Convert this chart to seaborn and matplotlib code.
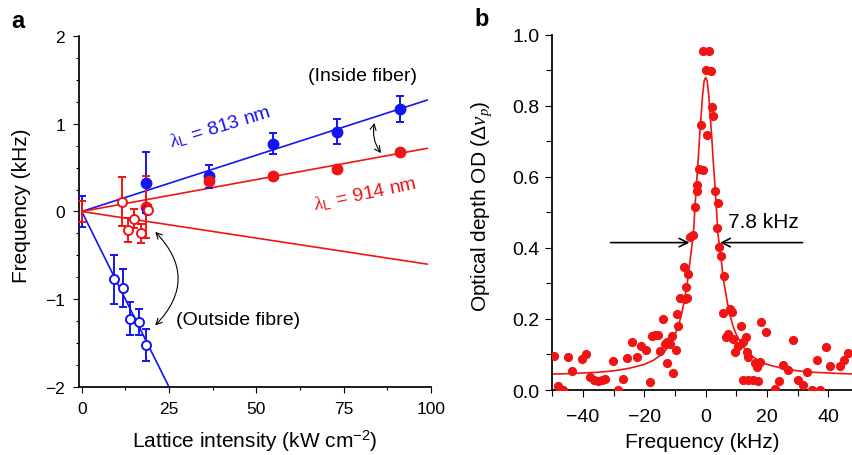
import numpy as np
import pandas as pd
import matplotlib
matplotlib.use('Agg')
import matplotlib.pyplot as plt
from matplotlib.ticker import MultipleLocator
import seaborn as sns

# ---- panel a: shift vs lattice intensity ----
inside_x = [18.3, 36.4, 54.7, 73.0, 91.3]
blue_in_y = [0.33, 0.40, 0.77, 0.91, 1.17]
blue_in_err = [0.35, 0.13, 0.12, 0.14, 0.15]
red_in_y = [0.05, 0.35, 0.40, 0.48, 0.68]
red_in_err = [0.35, 0.04, 0.04, 0.04, 0.03]

origin_err_blue = 0.18
origin_err_red = 0.12

blue_out_x = [9.2, 11.7, 13.8, 16.3, 18.4, 18.6]
blue_out_y = [-0.77, -0.87, -1.22, -1.26, -1.52, 0.02]
blue_out_err = [0.28, 0.22, 0.19, 0.15, 0.18, 0.0]
red_out_x = [11.4, 13.1, 15.0, 16.9, 18.9]
red_out_y = [0.11, -0.21, -0.08, -0.25, 0.02]
red_out_err = [0.28, 0.14, 0.11, 0.11, 0.05]

# fitted straight lines (end points)
fit_in_x = [0, 99]
blue_in_fit = [0, 1.27]
red_in_fit = [0, 0.72]
red_out_fit = [0, -0.60]
blue_out_fit_x = [0, 25]
blue_out_fit = [0, -2.0]

# ---- panel b: optical depth spectrum ----
od_x = [-49.5, -48.0, -46.5, -45.0, -43.5, -40.4, -39.1, -37.7, -36.3, -35.0,
        -33.7, -32.8, -30.1, -28.5, -27.1, -25.5, -24.1, -22.5, -21.1, -19.5,
        -18.2, -17.6, -16.5, -15.4, -14.9, -14.0, -13.3, -12.7, -12.5, -11.6,
        -10.9, -10.5, -9.8, -9.5, -8.9, -8.4, -7.0, -6.7, -6.5, -6.0,
        -5.7, -5.1, -4.0, -3.5, -2.9, -2.9, -2.1, -1.0, -1.5, 0.3,
        -0.8, 1.2, 0.0, 1.6, 2.0, 2.5, 3.0, 3.9, 3.6, 4.5,
        5.0, 6.0, 5.5, 7.9, 8.5, 6.6, 7.4, 9.0, 9.6, 10.4,
        11.5, 12.3, 13.0, 13.4, 13.9, 12.3, 13.9, 15.5, 17.2, 16.1,
        16.6, 17.7, 18.0, 19.6, 22.6, 24.0, 25.3, 27.0, 28.4, 30.0,
        31.8, 32.9, 34.6, 36.2, 37.3, 39.1, 40.5, 43.8, 45.2, 46.5]
od_y = [0.097, 0.010, 0.0, 0.092, 0.053, 0.087, 0.100, 0.038, 0.028, 0.026,
        0.028, 0.031, 0.081, 0.0, 0.031, 0.090, 0.136, 0.094, 0.125, 0.113,
        0.022, 0.153, 0.155, 0.155, 0.111, 0.200, 0.130, 0.134, 0.075, 0.130,
        0.153, 0.048, 0.113, 0.214, 0.179, 0.258, 0.347, 0.256, 0.291, 0.258,
        0.327, 0.432, 0.437, 0.514, 0.559, 0.578, 0.623, 0.618, 0.746, 0.718,
        0.954, 0.954, 0.900, 0.897, 0.796, 0.770, 0.559, 0.526, 0.455, 0.404,
        0.378, 0.322, 0.216, 0.228, 0.219, 0.148, 0.158, 0.144, 0.106, 0.125,
        0.181, 0.134, 0.150, 0.108, 0.092, 0.028, 0.028, 0.028, 0.026, 0.075,
        0.064, 0.080, 0.191, 0.164, 0.003, 0.026, 0.071, 0.056, 0.141, 0.028,
        0.015, 0.050, 0.0, 0.085, 0.0, 0.122, 0.069, 0.069, 0.085, 0.103]

fit_x = [-50, -45, -40, -35, -30, -25, -20, -17, -14, -12, -10, -9, -8, -7, -6,
         -5, -4, -3.5, -3, -2.5, -2, -1.5, -1, -0.5, 0, 0.5, 1, 1.5, 2, 2.5, 3,
         3.5, 4, 5, 6, 7, 8, 9, 10, 12, 14, 17, 20, 25, 30, 35, 40, 45, 50]
fit_y = [0.045, 0.046, 0.048, 0.050, 0.054, 0.061, 0.072, 0.084, 0.102, 0.124,
         0.156, 0.178, 0.208, 0.250, 0.300, 0.370, 0.440, 0.510, 0.580, 0.640,
         0.710, 0.770, 0.830, 0.870, 0.880, 0.870, 0.830, 0.770, 0.710, 0.640,
         0.580, 0.510, 0.440, 0.370, 0.300, 0.250, 0.208, 0.178, 0.156, 0.124,
         0.102, 0.084, 0.072, 0.061, 0.054, 0.050, 0.048, 0.046, 0.045]

BLUE = '#1414f0'
RED = '#f01414'

sns.set_theme(style='ticks')
plt.rcParams['font.family'] = ['Liberation Sans', 'DejaVu Sans']
plt.rcParams['mathtext.fontset'] = 'custom'
plt.rcParams['mathtext.rm'] = 'Liberation Sans'
plt.rcParams['mathtext.it'] = 'Liberation Serif:italic'
plt.rcParams['axes.edgecolor'] = 'black'
plt.rcParams['xtick.color'] = 'black'
plt.rcParams['ytick.color'] = 'black'
plt.rcParams['text.color'] = 'black'
plt.rcParams['axes.labelcolor'] = 'black'

fig = plt.figure(figsize=(8.52, 4.56), dpi=100)
ax_a = fig.add_axes([0.0927, 0.149, 0.413, 0.770])
ax_b = fig.add_axes([0.6482, 0.1425, 0.3518, 0.779])

# ---------------- panel a ----------------
ax = ax_a
sns.lineplot(x=fit_in_x, y=blue_in_fit, ax=ax, color=BLUE, lw=1.2, estimator=None)
sns.lineplot(x=fit_in_x, y=red_in_fit, ax=ax, color=RED, lw=1.2, estimator=None)
sns.lineplot(x=fit_in_x, y=red_out_fit, ax=ax, color=RED, lw=1.2, estimator=None)
sns.lineplot(x=blue_out_fit_x, y=blue_out_fit, ax=ax, color=BLUE, lw=1.2, estimator=None)

eb = dict(capsize=3, elinewidth=1.4, capthick=1.4, zorder=3, clip_on=False)
ax.errorbar([0], [0], yerr=[origin_err_blue], fmt='none', ecolor=BLUE, **eb)
ax.errorbar([0], [0], yerr=[origin_err_red], fmt='none', ecolor=RED, **eb)
ax.errorbar(inside_x, blue_in_y, yerr=blue_in_err, fmt='o', color=BLUE, ms=7.5, **eb)
ax.errorbar(inside_x, red_in_y, yerr=red_in_err, fmt='o', color=RED, ms=7.5, **eb)
ax.errorbar(blue_out_x, blue_out_y, yerr=blue_out_err, fmt='o', color=BLUE, ms=6.5,
            mfc='white', mew=1.4, **eb)
ax.errorbar(red_out_x, red_out_y, yerr=red_out_err, fmt='o', color=RED, ms=6.5,
            mfc='white', mew=1.4, **eb)

ax.set_xlim(-0.8, 100)
ax.set_ylim(-2, 2)
ax.xaxis.set_major_locator(MultipleLocator(25))
ax.xaxis.set_minor_locator(MultipleLocator(12.5))
ax.yaxis.set_major_locator(MultipleLocator(1))
ax.yaxis.set_minor_locator(MultipleLocator(0.25))
ax.tick_params(which='major', length=4, width=0.8, labelsize=12.5, pad=6)
ax.tick_params(which='minor', length=2.5, width=0.8)
ax.set_xlabel('Lattice intensity (kW cm$^{-2}$)', fontsize=15)
ax.set_ylabel('Frequency (kHz)', fontsize=15)
ax.xaxis.set_label_coords(0.5, -0.117)
ax.yaxis.set_label_coords(-0.135, 0.52)

ax.text(80.5, 1.55, '(Inside fiber)', fontsize=14, ha='center', va='center')
ax.text(44.8, -1.23, '(Outside fibre)', fontsize=14, ha='center', va='center')
ax.text(39.6, 0.97, r'$\lambda_{\rm L}$ = 813 nm', fontsize=14, color=BLUE,
        ha='center', va='center', rotation=17)
ax.text(81.2, 0.21, r'$\lambda_{\rm L}$ = 914 nm', fontsize=14, color=RED,
        ha='center', va='center', rotation=12)

arrow_kw = dict(arrowstyle='<->,head_length=0.35,head_width=0.18', color='black', lw=0.8)
ax.annotate('', xy=(86.2, 0.64), xytext=(84.0, 1.04),
            arrowprops=dict(connectionstyle='arc3,rad=0.25', **arrow_kw))
ax.annotate('', xy=(20.5, -1.32), xytext=(20.5, -0.21),
            arrowprops=dict(connectionstyle='arc3,rad=-0.5', **arrow_kw))

# ---------------- panel b ----------------
ax = ax_b
sns.lineplot(x=fit_x, y=fit_y, ax=ax, color=RED, lw=1.2, estimator=None, zorder=2)
sns.scatterplot(x=od_x, y=od_y, ax=ax, color=RED, s=44, linewidth=0, zorder=3)

ax.set_xlim(-50, 47.7)
ax.set_ylim(0, 1.0)
ax.xaxis.set_major_locator(MultipleLocator(20))
ax.xaxis.set_minor_locator(MultipleLocator(10))
ax.yaxis.set_major_locator(MultipleLocator(0.2))
ax.yaxis.set_minor_locator(MultipleLocator(0.1))
ax.tick_params(which='major', length=5, width=0.8, labelsize=14)
ax.tick_params(axis='x', which='major', pad=8)
ax.tick_params(axis='y', which='major', pad=4)
ax.tick_params(which='minor', length=4, width=0.8)
ax.set_xlabel('Frequency (kHz)', fontsize=15)
ax.set_ylabel(r'Optical depth OD ($\Delta\nu_{p}$)', fontsize=15)
ax.xaxis.set_label_coords(0.5, -0.118)
ax.yaxis.set_label_coords(-0.195, 0.52)

ax.annotate('', xy=(-5.3, 0.415), xytext=(-31, 0.415),
            arrowprops=dict(arrowstyle='->,head_length=0.5,head_width=0.25',
                            color='black', lw=1.2, shrinkA=0, shrinkB=0))
ax.annotate('', xy=(4.7, 0.415), xytext=(31.6, 0.415),
            arrowprops=dict(arrowstyle='->,head_length=0.5,head_width=0.25',
                            color='black', lw=1.2, shrinkA=0, shrinkB=0))
ax.text(18.8, 0.474, '7.8 kHz', fontsize=15, ha='center', va='center')

sns.despine(fig=fig)

fig.text(18 / 852, 1 - 22 / 456, 'a', fontsize=17, fontweight='bold', ha='center', va='center')
fig.text(482 / 852, 1 - 20 / 456, 'b', fontsize=17, fontweight='bold', ha='center', va='center')

fig.savefig('out.png', dpi=100)
